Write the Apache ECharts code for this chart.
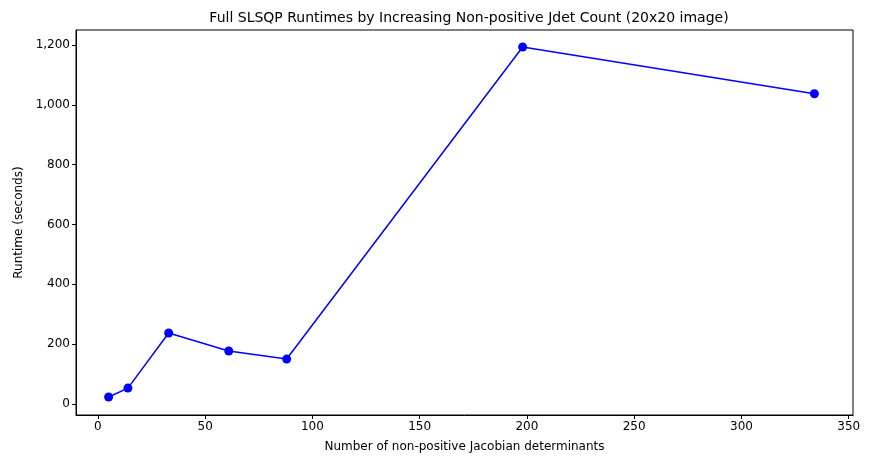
<!DOCTYPE html>
<html>
<head>
<meta charset="utf-8">
<script src="https://cdn.jsdelivr.net/npm/echarts@6/dist/echarts.min.js"></script>
<style>html,body{margin:0;padding:0;background:#fff}#chart{width:872px;height:468px}</style>
</head>
<body>
<div id="chart"></div>
<script>
// 数据
var jdetCounts = [5, 14, 33, 61, 88, 198, 334];
var runtimes = [23, 53, 237, 177, 150, 1193, 1037];
var xTicks = [0, 50, 100, 150, 200, 250, 300, 350];
var yTicks = [0, 200, 400, 600, 800, 1000, 1200];

(function () {
	var myChart = echarts.init(document.getElementById('chart'));
	var points = [];
	for (var i = 0; i < jdetCounts.length; i++) {
		points.push([jdetCounts[i], runtimes[i]]);
	}
	var font = { color: '#000', fontSize: 12, fontFamily: 'DejaVu Sans' };
	var option = {
		animation: false,
		title: {
			text: 'Full SLSQP Runtimes by Increasing Non-positive Jdet Count (20x20 image)',
			left: 464, top: 6, textAlign: 'center',
			textStyle: { fontSize: 14, fontWeight: 'normal', color: '#000', fontFamily: 'DejaVu Sans' }
		},
		grid: { left: 76, right: 19, top: 30, bottom: 53, show: true, borderColor: '#000', borderWidth: 1 },
		xAxis: {
			type: 'value', min: -10.2, max: 352,
			name: 'Number of non-positive Jacobian determinants',
			nameLocation: 'middle', nameGap: 26, nameTextStyle: font,
			axisLine: { onZero: false, lineStyle: { color: '#000' } },
			axisTick: { show: true, length: 4, customValues: xTicks, lineStyle: { color: '#000' } },
			axisLabel: Object.assign({ customValues: xTicks, margin: 6 }, font),
			splitLine: { show: false }
		},
		yAxis: {
			type: 'value', min: -37, max: 1250,
			name: 'Runtime (seconds)',
			nameLocation: 'middle', nameGap: 50, nameTextStyle: font,
			axisLine: { onZero: false, lineStyle: { color: '#000' } },
			axisTick: { show: true, length: 4, customValues: yTicks, lineStyle: { color: '#000' } },
			axisLabel: Object.assign({ customValues: yTicks, margin: 6 }, font),
			splitLine: { show: false }
		},
		series: [{
			type: 'line',
			data: points,
			symbol: 'circle',
			symbolSize: 9,
			lineStyle: { color: '#0000ff', width: 1.5 },
			itemStyle: { color: '#0000ff' }
		}]
	};
	myChart.setOption(option);
})();
</script>
</body>
</html>
